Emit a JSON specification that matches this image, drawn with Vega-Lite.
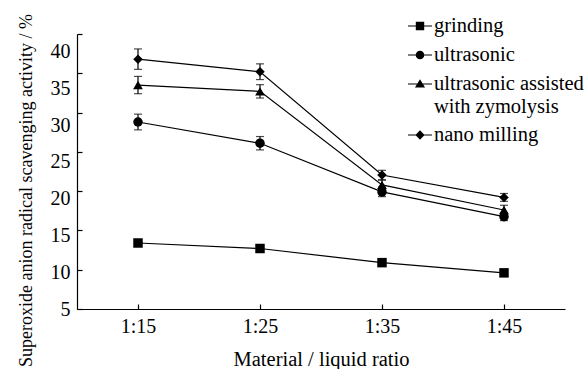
{
  "$schema": "https://vega.github.io/schema/vega-lite/v6.json",
  "width": 488,
  "height": 275,
  "autosize": "none",
  "padding": {"left": 77, "top": 34, "right": 20, "bottom": 60},
  "background": "white",
  "config": {
    "view": {"stroke": null},
    "font": "Liberation Serif, Times New Roman, serif",
    "axis": {
      "grid": false,
      "domainColor": "black",
      "domainWidth": 1.2,
      "tickColor": "black",
      "tickWidth": 1.2,
      "tickSize": -5,
      "labelColor": "black",
      "labelFont": "Liberation Serif, Times New Roman, serif",
      "labelFontSize": 20,
      "titleFont": "Liberation Serif, Times New Roman, serif",
      "titleFontWeight": "normal",
      "titleColor": "black"
    },
    "legend": {
      "labelFont": "Liberation Serif, Times New Roman, serif",
      "labelFontSize": 20.5,
      "labelColor": "black"
    }
  },
  "data": {
    "values": [
      {"method": "grinding", "ratio": 15, "value": 13.4, "err": 0.2},
      {"method": "grinding", "ratio": 25, "value": 12.7, "err": 0.2},
      {"method": "grinding", "ratio": 35, "value": 10.9, "err": 0.2},
      {"method": "grinding", "ratio": 45, "value": 9.6, "err": 0.2},
      {"method": "ultrasonic", "ratio": 15, "value": 28.8, "err": 1.0},
      {"method": "ultrasonic", "ratio": 25, "value": 26.1, "err": 0.85},
      {"method": "ultrasonic", "ratio": 35, "value": 19.9, "err": 0.6},
      {"method": "ultrasonic", "ratio": 45, "value": 16.75, "err": 0.5},
      {"method": "ultrasonic assisted with zymolysis", "ratio": 15, "value": 33.5, "err": 1.1},
      {"method": "ultrasonic assisted with zymolysis", "ratio": 25, "value": 32.7, "err": 0.85},
      {"method": "ultrasonic assisted with zymolysis", "ratio": 35, "value": 20.8, "err": 0.6},
      {"method": "ultrasonic assisted with zymolysis", "ratio": 45, "value": 17.6, "err": 0.6},
      {"method": "nano milling", "ratio": 15, "value": 36.8, "err": 1.3},
      {"method": "nano milling", "ratio": 25, "value": 35.2, "err": 1.0},
      {"method": "nano milling", "ratio": 35, "value": 22.05, "err": 0.6},
      {"method": "nano milling", "ratio": 45, "value": 19.2, "err": 0.5}
    ]
  },
  "encoding": {
    "x": {
      "field": "ratio",
      "type": "quantitative",
      "scale": {"domain": [10, 50], "nice": false, "zero": false},
      "axis": {
        "values": [15, 25, 35, 45],
        "labelExpr": "'1:' + datum.value",
        "title": "Material / liquid ratio",
        "titleFontSize": 20.5,
        "labelPadding": 12,
        "titlePadding": 13
      }
    },
    "y": {
      "field": "value",
      "type": "quantitative",
      "scale": {"domain": [5, 40], "nice": false, "zero": false},
      "axis": {
        "values": [5, 10, 15, 20, 25, 30, 35, 40],
        "title": "Superoxide anion radical scavenging activity / %",
        "titleFontSize": 18,
        "labelPadding": 12,
        "titlePadding": 15,
        "titleY": 156,
        "labelOffset": {"expr": "(datum.value - 5) * 0.5"}
      }
    }
  },
  "layer": [
    {
      "mark": {"type": "line", "color": "black", "strokeWidth": 1.2},
      "encoding": {"detail": {"field": "method"}}
    },
    {
      "mark": {"type": "errorbar", "color": "black", "thickness": 1.2, "ticks": {"size": 8, "thickness": 1.2, "color": "black"}},
      "encoding": {
        "y": {"field": "value", "type": "quantitative"},
        "yError": {"field": "err"},
        "detail": {"field": "method"}
      }
    },
    {
      "transform": [{"filter": "datum.method == 'grinding'"}],
      "mark": {"type": "point", "filled": true, "color": "black", "opacity": 1, "size": 90, "shape": "square"}
    },
    {
      "transform": [{"filter": "datum.method == 'ultrasonic'"}],
      "mark": {"type": "point", "filled": true, "color": "black", "opacity": 1, "size": 90, "shape": "circle"}
    },
    {
      "transform": [{"filter": "datum.method == 'ultrasonic assisted with zymolysis'"}],
      "mark": {"type": "point", "filled": true, "color": "black", "opacity": 1, "size": 95, "shape": "triangle-up"}
    },
    {
      "transform": [{"filter": "datum.method == 'nano milling'"}],
      "mark": {"type": "point", "filled": true, "color": "black", "opacity": 1, "size": 90, "shape": "diamond"}
    },
    {
      "transform": [{"filter": "datum.ratio < 0"}],
      "mark": {"type": "point", "filled": true, "color": "black", "opacity": 1},
      "encoding": {
        "shape": {
          "field": "method",
          "type": "nominal",
          "scale": {
            "domain": ["grinding", "ultrasonic", "ultrasonic assisted with zymolysis", "nano milling"],
            "range": [
              "M-1,-0.05H1V0.05H-1ZM-0.35,-0.35H0.35V0.35H-0.35Z",
              "M-1,-0.05H1V0.05H-1ZM0.36,0A0.36,0.36 0 1,1 -0.36,0A0.36,0.36 0 1,1 0.36,0Z",
              "M-1,-0.05H1V0.05H-1ZM0,-0.4L0.42,0.3H-0.42Z",
              "M-1,-0.05H1V0.05H-1ZM0,-0.4L0.38,0L0,0.4L-0.38,0Z"
            ]
          },
          "legend": {
            "title": null,
            "orient": "none",
            "legendX": 330,
            "legendY": -21,
            "padding": 0,
            "symbolSize": 576,
            "symbolFillColor": "black",
            "symbolOpacity": 1,
            "labelOffset": 1,
            "rowPadding": 5,
            "labelLineHeight": 24,
            "labelExpr": "datum.label == 'ultrasonic assisted with zymolysis' ? ['ultrasonic assisted', 'with zymolysis'] : datum.label"
          }
        }
      }
    }
  ]
}
